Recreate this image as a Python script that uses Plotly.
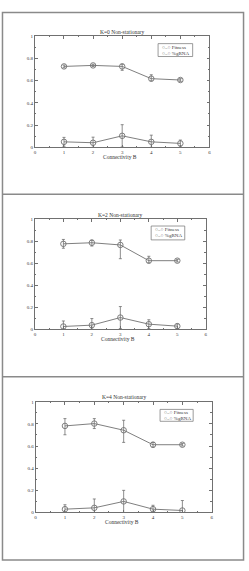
import plotly.graph_objects as go

W, H = 249, 571

connectivity = [1, 2, 3, 4, 5]
panel_titles = ["K=0 Non-stationary", "K=2 Non-stationary", "K=4 Non-stationary"]
series_names = ["Fitness", "%gRNA"]

fitness_k0 = [0.727, 0.736, 0.727, 0.617, 0.605]
fitness_k0_err_plus = [0.012, 0.010, 0.020, 0.035, 0.012]
fitness_k0_err_minus = [0.012, 0.010, 0.035, 0.020, 0.012]
grna_k0 = [0.050, 0.042, 0.104, 0.050, 0.036]
grna_k0_err_plus = [0.040, 0.050, 0.100, 0.060, 0.030]
grna_k0_err_minus = [0.040, 0.042, 0.100, 0.050, 0.030]

fitness_k2 = [0.775, 0.785, 0.765, 0.622, 0.622]
fitness_k2_err_plus = [0.040, 0.025, 0.045, 0.040, 0.012]
fitness_k2_err_minus = [0.040, 0.030, 0.125, 0.020, 0.012]
grna_k2 = [0.024, 0.036, 0.105, 0.045, 0.027]
grna_k2_err_plus = [0.050, 0.060, 0.100, 0.040, 0.020]
grna_k2_err_minus = [0.024, 0.036, 0.100, 0.040, 0.020]

fitness_k4 = [0.782, 0.803, 0.743, 0.612, 0.612]
fitness_k4_err_plus = [0.066, 0.045, 0.090, 0.022, 0.012]
fitness_k4_err_minus = [0.080, 0.045, 0.110, 0.022, 0.012]
grna_k4 = [0.030, 0.042, 0.100, 0.030, 0.018]
grna_k4_err_plus = [0.040, 0.080, 0.100, 0.035, 0.090]
grna_k4_err_minus = [0.030, 0.042, 0.100, 0.030, 0.018]

x_ticks = [0, 1, 2, 3, 4, 5, 6]
y_ticks = [0, 0.2, 0.4, 0.6, 0.8, 1]
y_tick_labels = ["0", "0.2", "0.4", "0.6", "0.8", "1"]

panels = [
    (fitness_k0, fitness_k0_err_plus, fitness_k0_err_minus, grna_k0, grna_k0_err_plus, grna_k0_err_minus),
    (fitness_k2, fitness_k2_err_plus, fitness_k2_err_minus, grna_k2, grna_k2_err_plus, grna_k2_err_minus),
    (fitness_k4, fitness_k4_err_plus, fitness_k4_err_minus, grna_k4, grna_k4_err_plus, grna_k4_err_minus),
]

# pixel boxes of the plot areas: (x0, x1, ytop, ybottom)
boxes = [(34.3, 211.0, 34.3, 146.7), (34.3, 207.3, 219.0, 330.0), (35.0, 213.3, 403.3, 515.0)]
# legend boxes: (x0, x1, ytop, ybottom)
legend_boxes = [(159, 194, 42, 55), (152, 186, 226, 240), (161, 194.5, 411, 423)]

GREY = "#707070"
TXT = "#333333"
FONT = "Liberation Serif"

fig = go.Figure()
layout = dict(
    width=W, height=H, margin=dict(l=0, r=0, t=0, b=0),
    paper_bgcolor="white", plot_bgcolor="white", showlegend=False,
    annotations=[], shapes=[],
)

def px(x):
    return x / W

def py(y):
    return 1 - y / H

for i, (fit, fp, fm, gr, gp, gm) in enumerate(panels):
    n = "" if i == 0 else str(i + 1)
    xa, ya = "x" + n, "y" + n
    x0, x1, yt, yb = boxes[i]
    axis_common = dict(
        showline=True, linecolor=GREY, linewidth=0.8, mirror="ticks",
        ticks="inside", ticklen=3, tickcolor=GREY, tickwidth=0.8,
        showgrid=False, zeroline=False,
        tickfont=dict(family=FONT, size=5, color=TXT),
        fixedrange=True,
    )
    layout["xaxis" + n] = dict(
        axis_common, domain=[px(x0), px(x1)], range=[0, 6],
        tickvals=x_ticks, anchor=ya, ticklabelstandoff=0,
        minor=dict(ticks="inside", ticklen=1.5, tickcolor=GREY, dtick=0.5),
    )
    layout["yaxis" + n] = dict(
        axis_common, domain=[py(yb), py(yt)], range=[0, 1],
        tickvals=y_ticks, ticktext=y_tick_labels, anchor=xa,
        minor=dict(ticks="inside", ticklen=1.5, tickcolor=GREY, dtick=0.1),
    )
    for name, vals, ep, em in ((series_names[0], fit, fp, fm), (series_names[1], gr, gp, gm)):
        fig.add_trace(go.Scatter(
            x=connectivity, y=vals, mode="lines+markers", name=name,
            xaxis=xa, yaxis=ya,
            line=dict(color=GREY, width=0.9),
            marker=dict(symbol="circle-open", size=5.5, color=GREY, line=dict(width=0.9)),
            error_y=dict(type="data", symmetric=False, array=ep, arrayminus=em,
                         color=GREY, thickness=0.8, width=1.5),
        ))
    # legend box drawn by hand
    lx0, lx1, lyt, lyb = legend_boxes[i]
    layout["shapes"].append(dict(
        type="rect", xref="paper", yref="paper", x0=px(lx0), x1=px(lx1), y0=py(lyb), y1=py(lyt),
        line=dict(color=GREY, width=0.7), fillcolor="white",
    ))
    for k, name in enumerate(series_names):
        layout["annotations"].append(dict(
            text="○–○ " + name, xref="paper", yref="paper",
            x=px(lx0 + 1.5), y=py(lyt + 3.5 + 6 * k), xanchor="left", yanchor="middle",
            showarrow=False, font=dict(family=FONT, size=5, color=TXT),
        ))
    layout["annotations"].append(dict(
        text=panel_titles[i], xref="paper", yref="paper",
        x=px((x0 + x1) / 2), y=py(yt - 4.5), xanchor="center", yanchor="middle",
        showarrow=False, font=dict(family=FONT, size=5.5, color=TXT),
    ))
    layout["annotations"].append(dict(
        text="Connectivity B", xref="paper", yref="paper",
        x=px((x0 + x1) / 2 - 2), y=py(yb + 9.5), xanchor="center", yanchor="middle",
        showarrow=False, font=dict(family=FONT, size=5.5, color=TXT),
    ))

# outer frame and separators
frame = dict(color="#8a8a8a", width=1.5)
layout["shapes"] += [
    dict(type="rect", xref="paper", yref="paper", x0=px(1.5), x1=px(245.5), y0=py(563), y1=py(10.5), line=frame),
    dict(type="line", xref="paper", yref="paper", x0=px(1.5), x1=px(245.5), y0=py(194), y1=py(194), line=frame),
    dict(type="line", xref="paper", yref="paper", x0=px(1.5), x1=px(245.5), y0=py(378), y1=py(378), line=frame),
]

fig.update_layout(**layout)
fig.write_html("out.html")
